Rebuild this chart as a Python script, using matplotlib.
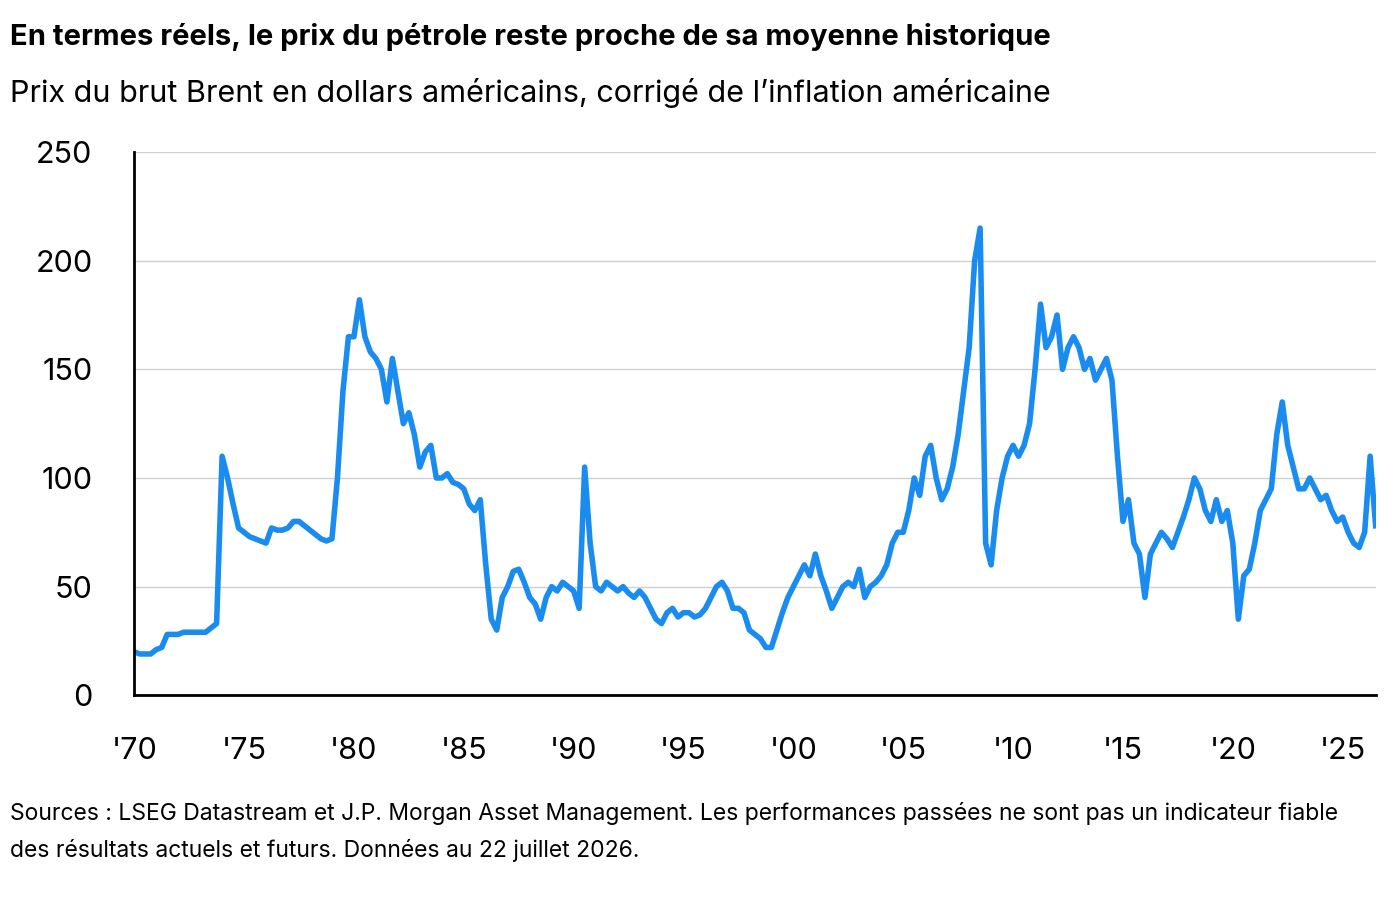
import matplotlib.pyplot as plt
import numpy as np

plt.rcParams['font.family'] = ['Inter', 'DejaVu Sans']

# quarterly readings, Brent in real USD, starting Q1 1970
start_year = 1970
prices = [
    20, 19, 19, 19,   21, 22, 28, 28,   28, 29, 29, 29,   29, 29, 31, 33,
    110, 100, 88, 77, 75, 73, 72, 71,   70, 77, 76, 76,   77, 80, 80, 78,
    76, 74, 72, 71,   72, 100, 140, 165, 165, 182, 165, 158, 155, 150, 135, 155,
    140, 125, 130, 120, 105, 112, 115, 100, 100, 102, 98, 97, 95, 88, 85, 90,
    60, 35, 30, 45,   50, 57, 58, 52,   45, 42, 35, 45,   50, 48, 52, 50,
    48, 40, 105, 70,  50, 48, 52, 50,   48, 50, 47, 45,   48, 45, 40, 35,
    33, 38, 40, 36,   38, 38, 36, 37,   40, 45, 50, 52,   48, 40, 40, 38,
    30, 28, 26, 22,   22, 30, 38, 45,   50, 55, 60, 55,   65, 55, 48, 40,
    45, 50, 52, 50,   58, 45, 50, 52,   55, 60, 70, 75,   75, 85, 100, 92,
    110, 115, 100, 90, 95, 105, 120, 140, 160, 200, 215, 70, 60, 85, 100, 110,
    115, 110, 115, 125, 150, 180, 160, 165, 175, 150, 160, 165, 160, 150, 155, 145,
    150, 155, 145, 110, 80, 90, 70, 65, 45, 65, 70, 75,   72, 68, 75, 82,
    90, 100, 95, 85,  80, 90, 80, 85,   70, 35, 55, 58,   70, 85, 90, 95,
    120, 135, 115, 105, 95, 95, 100, 95, 90, 92, 85, 80,  82, 75, 70, 68,
    75, 110, 78,
]
years = start_year + np.arange(len(prices)) * 0.25

xtick_years = list(range(1970, 2026, 5))
xtick_labels = ["'70", "'75", "'80", "'85", "'90", "'95", "'00", "'05", "'10", "'15", "'20", "'25"]
yticks = [0, 50, 100, 150, 200, 250]

fig = plt.figure(figsize=(13.98, 9.16), dpi=100)
ax = fig.add_axes([0.096, 0.241, 0.888, 0.593])
ax.plot(years, prices, color="#1a8cf0", lw=4, solid_joinstyle="round")

ax.set_xlim(1970, 2026.5)
ax.set_ylim(0, 250)
ax.set_xticks(xtick_years)
ax.set_xticklabels(xtick_labels)
ax.set_yticks(yticks)
ax.tick_params(axis="both", labelsize=22, length=0)
ax.tick_params(axis="x", pad=30)
ax.tick_params(axis="y", pad=30)
ax.grid(axis="y", color="#d0d0d0", lw=1)
ax.set_axisbelow(True)
for s in ["top", "right"]:
    ax.spines[s].set_visible(False)
for s in ["left", "bottom"]:
    ax.spines[s].set_linewidth(2)
    ax.spines[s].set_color("black")

fig.text(0.007, 0.96, "En termes réels, le prix du pétrole reste proche de sa moyenne historique",
         fontsize=21, fontweight="bold", va="center")
fig.text(0.007, 0.899, "Prix du brut Brent en dollars américains, corrigé de l’inflation américaine",
         fontsize=22, va="center")
fig.text(0.007, 0.112, "Sources : LSEG Datastream et J.P. Morgan Asset Management. Les performances passées ne sont pas un indicateur fiable",
         fontsize=16.5, va="center")
fig.text(0.007, 0.072, "des résultats actuels et futurs. Données au 22 juillet 2026.",
         fontsize=16.5, va="center")

fig.savefig("out.png", dpi=100, facecolor="white")
